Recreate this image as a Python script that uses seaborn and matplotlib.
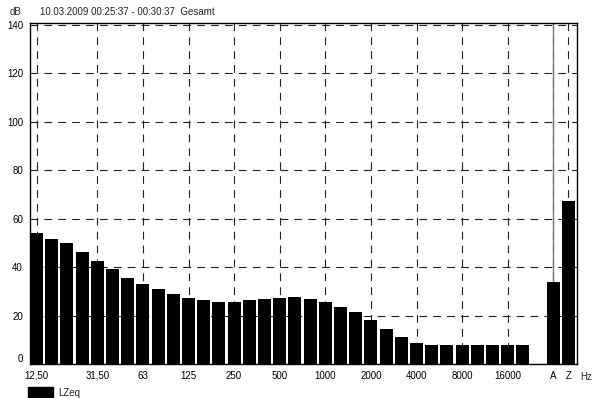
import pandas as pd
import numpy as np
import matplotlib
matplotlib.use("Agg")
import matplotlib.pyplot as plt
import matplotlib.transforms as mtransforms
import seaborn as sns
from matplotlib.patches import Patch

# third-octave bands, then a gap, then the A and Z sums
bands = ["12.5", "16", "20", "25", "31.5", "40", "50", "63", "80", "100", "125", "160",
         "200", "250", "315", "400", "500", "630", "800", "1000", "1250", "1600", "2000",
         "2500", "3150", "4000", "5000", "6300", "8000", "10000", "12500", "16000", "20000",
         "", "A", "Z"]
lzeq = [54.2, 51.7, 49.9, 46.1, 42.6, 39.2, 35.4, 33.2, 31.1, 28.9, 27.1, 26.3,
        25.7, 25.7, 26.3, 26.7, 27.2, 27.6, 26.9, 25.7, 23.6, 21.4, 18.1,
        14.6, 11.1, 8.7, 7.8, 7.8, 7.8, 7.8, 7.8, 7.8, 7.8,
        np.nan, 33.8, 67.5]

tick_pos = [0, 4, 7, 10, 13, 16, 19, 22, 25, 28, 31, 34, 35]
tick_labels = ["12,50", "31,50", "63", "125", "250", "500", "1000", "2000",
               "4000", "8000", "16000", "A", "Z"]
y_ticks = [0, 20, 40, 60, 80, 100, 120, 140]

df = pd.DataFrame({"band": bands, "LZeq": lzeq})

sns.set_style("white")
plt.rcParams["font.family"] = ["Liberation Sans", "DejaVu Sans"]
plt.rcParams["font.size"] = 7

fig = plt.figure(figsize=(5.93, 3.98), dpi=100)
ax = fig.add_axes([30 / 593, 1 - 364 / 398, 547 / 593, (364 - 22.5) / 398])

sns.barplot(data=df, x="band", y="LZeq", order=bands, color="black",
            width=0.86, saturation=1, ax=ax, zorder=3)
for p in ax.patches:
    p.set_edgecolor("none")

ax.set_xlim(-0.43, 35.56)
ax.set_ylim(0, 141)
ax.set_xticks(tick_pos)
ax.set_xticklabels(tick_labels)
ax.set_yticks(y_ticks)
ax.set_xlabel("")
ax.set_ylabel("")

ax.grid(True, color="#222222", linestyle=(0, (7, 5.5)), linewidth=0.8, zorder=1)
ax.axvline(34, color="#777777", linewidth=1.0, zorder=2)

for s in ax.spines.values():
    s.set_visible(True)
    s.set_color("black")
    s.set_linewidth(1.0)

ax.tick_params(axis="both", direction="out", length=3, width=0.8, colors="black",
               labelsize=7, pad=2)
ax.tick_params(axis="x", length=2, pad=3)

# the "0" label sits a bit above its tick in the original
lbl0 = ax.get_yticklabels()[0]
lbl0.set_transform(lbl0.get_transform() + mtransforms.ScaledTranslation(0, 6 / 100, fig.dpi_scale_trans))

fig.text(10 / 593, 1 - 12 / 398, "dB", fontsize=7, va="center")
fig.text(40 / 593, 1 - 12 / 398, "10.03.2009 00:25:37 - 00:30:37  Gesamt", fontsize=7, va="center")
fig.text(580 / 593, 1 - 377 / 398, "Hz", fontsize=7, va="center")

leg = fig.legend(handles=[Patch(facecolor="black", edgecolor="black", label="LZeq")],
                 loc="center left", bbox_to_anchor=(28 / 593, 1 - 392.5 / 398),
                 frameon=False, fontsize=7, handlelength=2.6, handleheight=1.5,
                 handletextpad=0.5, borderpad=0, borderaxespad=0)

fig.savefig("out.png", dpi=100)
